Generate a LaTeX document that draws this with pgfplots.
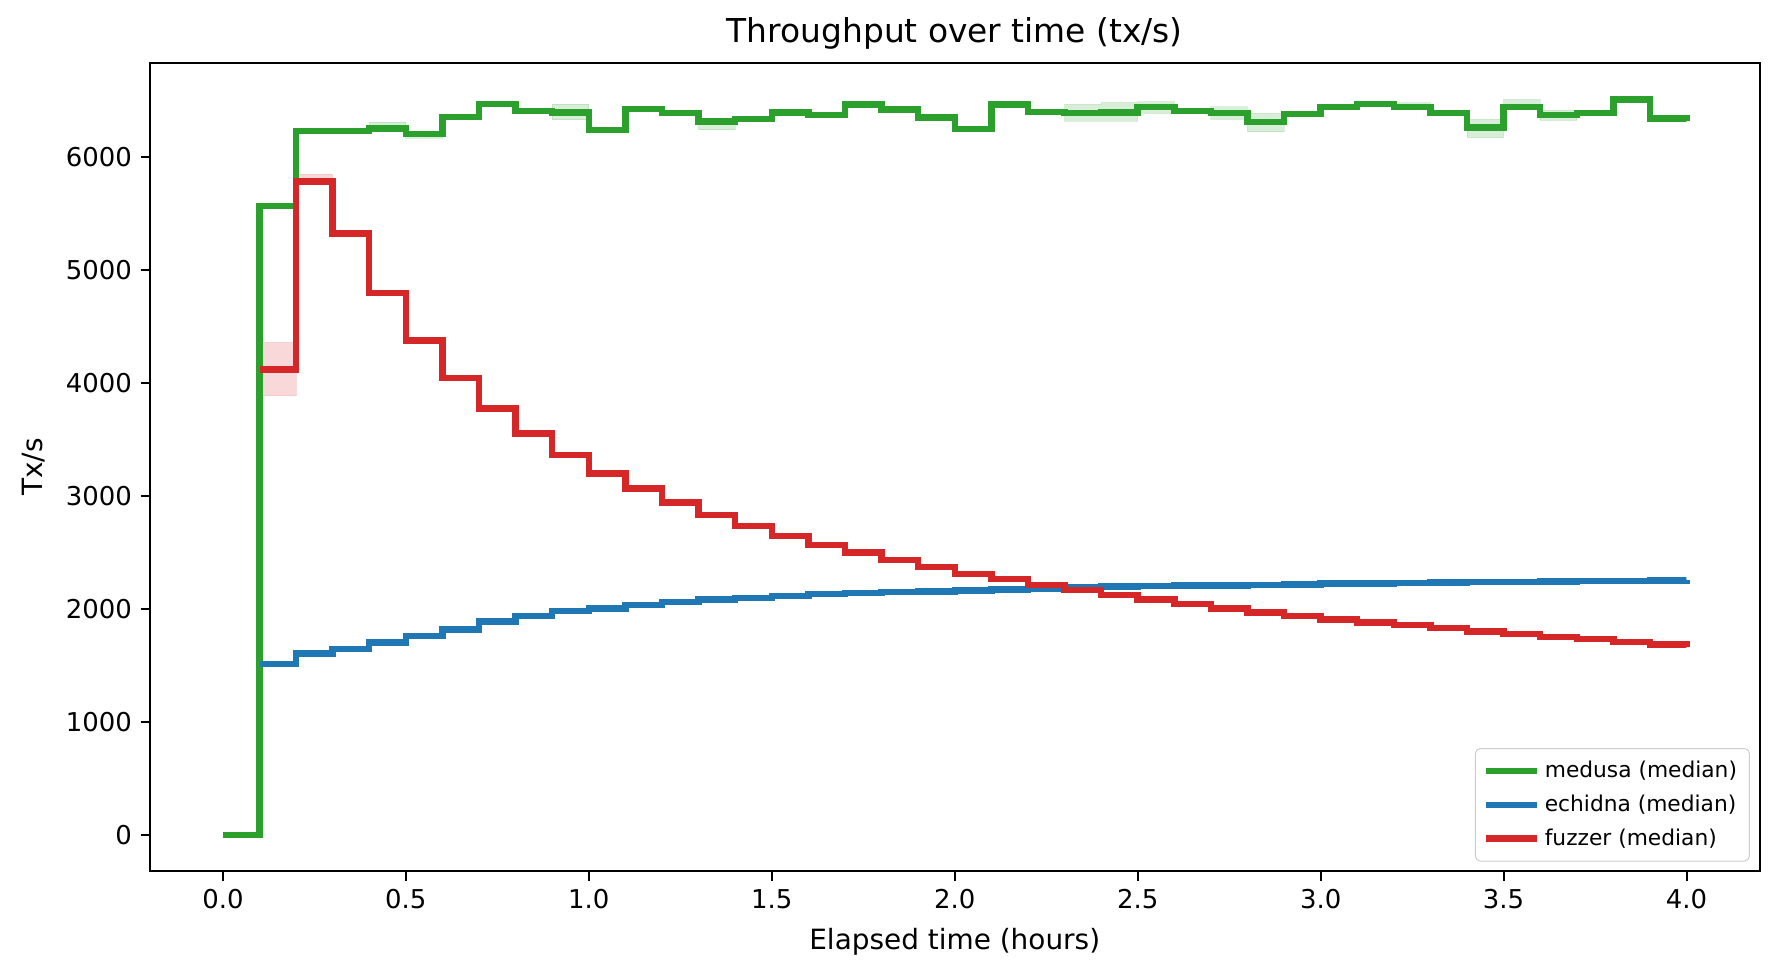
\documentclass[border=0pt]{standalone}
\usepackage{fontspec}
\setmainfont{DejaVu Sans}
\usepackage{pgfplots}
\usepackage{pgfplotstable}
\pgfplotsset{compat=1.18}
\usepgfplotslibrary{fillbetween}
\definecolor{mgreen}{HTML}{2CA02C}
\definecolor{mblue}{HTML}{1F77B4}
\definecolor{mred}{HTML}{D62728}

\pgfplotstableread{
x med lo hi
0.0 0 0 0
0.1 5565 5550 5580
0.2 6228 6215 6240
0.3 6228 6215 6250
0.4 6251 6235 6305
0.5 6201 6163 6215
0.6 6349 6335 6365
0.7 6464 6450 6478
0.8 6405 6390 6420
0.9 6390 6325 6464
1.0 6237 6222 6250
1.1 6420 6405 6435
1.2 6385 6370 6400
1.3 6311 6237 6330
1.4 6331 6318 6345
1.5 6392 6378 6405
1.6 6368 6350 6385
1.7 6462 6448 6475
1.8 6418 6405 6432
1.9 6347 6333 6360
2.0 6244 6230 6258
2.1 6462 6448 6475
2.2 6394 6380 6420
2.3 6388 6315 6462
2.4 6391 6315 6477
2.5 6441 6382 6485
2.6 6403 6390 6420
2.7 6388 6329 6441
2.8 6309 6220 6382
2.9 6375 6360 6390
3.0 6440 6425 6455
3.1 6465 6440 6490
3.2 6441 6420 6475
3.3 6388 6375 6400
3.4 6259 6169 6330
3.5 6441 6430 6505
3.6 6368 6320 6410
3.7 6388 6372 6400
3.8 6506 6492 6520
3.9 6339 6325 6352
4.0 6315 6300 6330
}\medusa

\pgfplotstableread{
x med lo hi
0.1 1510 1498 1524
0.2 1605 1593 1619
0.3 1646 1634 1660
0.4 1702 1690 1716
0.5 1758 1746 1772
0.6 1817 1805 1831
0.7 1885 1873 1899
0.8 1935 1923 1949
0.9 1979 1967 1993
1.0 2003 1991 2017
1.1 2032 2020 2046
1.2 2059 2047 2073
1.3 2083 2071 2097
1.4 2097 2085 2111
1.5 2114 2102 2128
1.6 2131 2119 2145
1.7 2139 2127 2153
1.8 2146 2134 2160
1.9 2152 2140 2166
2.0 2161 2149 2175
2.1 2170 2158 2184
2.2 2179 2167 2193
2.3 2190 2178 2204
2.4 2196 2184 2210
2.5 2199 2187 2213
2.6 2205 2193 2219
2.7 2207 2195 2221
2.8 2211 2199 2225
2.9 2214 2202 2228
3.0 2222 2210 2236
3.1 2224 2212 2238
3.2 2226 2214 2240
3.3 2232 2220 2246
3.4 2234 2222 2248
3.5 2236 2224 2250
3.6 2240 2228 2254
3.7 2243 2231 2257
3.8 2245 2233 2259
3.9 2248 2236 2262
4.0 2252 2240 2266
}\echidna

\pgfplotstableread{
x med lo hi
0.1 4118 3885 4354
0.2 5781 5768 5843
0.3 5320 5308 5340
0.4 4793 4780 4815
0.5 4375 4362 4395
0.6 4042 4030 4062
0.7 3773 3762 3795
0.8 3552 3540 3572
0.9 3360 3348 3385
1.0 3198 3186 3220
1.1 3065 3053 3085
1.2 2941 2930 2962
1.3 2829 2818 2850
1.4 2732 2720 2752
1.5 2644 2632 2664
1.6 2565 2554 2585
1.7 2497 2486 2517
1.8 2432 2421 2452
1.9 2367 2356 2385
2.0 2308 2297 2328
2.1 2261 2250 2280
2.2 2208 2197 2226
2.3 2164 2153 2182
2.4 2120 2109 2138
2.5 2081 2070 2099
2.6 2040 2030 2058
2.7 2001 1991 2019
2.8 1966 1956 1984
2.9 1938 1928 1955
3.0 1905 1895 1922
3.1 1878 1868 1895
3.2 1855 1845 1872
3.3 1828 1818 1845
3.4 1798 1788 1815
3.5 1775 1765 1792
3.6 1749 1739 1766
3.7 1731 1721 1748
3.8 1707 1697 1724
3.9 1682 1672 1699
4.0 1665 1655 1682
}\fuzzer

\begin{document}
\begin{tikzpicture}
\begin{axis}[
  scale only axis,
  width=651.6pt, height=327.4pt,
  xmin=-0.2, xmax=4.2,
  ymin=-325, ymax=6833,
  xtick={0,0.5,1,1.5,2,2.5,3,3.5,4},
  ytick={0,1000,2000,3000,4000,5000,6000},
  xtick pos=left, ytick pos=left,
  tick align=outside,
  major tick length=3.7pt,
  every tick/.style={black, line width=0.8pt},
  axis line style={line width=0.8pt},
  scaled y ticks=false,
  /pgf/number format/assume math mode=true,
  x tick label style={/pgf/number format/.cd, fixed, fixed zerofill, precision=1},
  y tick label style={/pgf/number format/.cd, 1000 sep={}},
  tick label style={font=\fontsize{10.5}{12}\selectfont},
  xlabel={Elapsed time (hours)},
  ylabel={Tx/s},
  label style={font=\fontsize{11.3}{13}\selectfont},
  xlabel style={at={(axis description cs:0.5,-0.087)}, anchor=center},
  ylabel style={at={(axis description cs:-0.072,0.5)}, anchor=center},
  title={Throughput over time (tx/s)},
  every axis title shift=0pt,
  title style={at={(axis description cs:0.5,1)}, anchor=base, yshift=8pt, font=\fontsize{13.3}{15}\selectfont},
  legend image code/.code={\draw[#1] (0cm,0cm) -- (0.72cm,0cm);},
  legend cell align=left,
  legend style={at={(axis description cs:1,0)}, anchor=south east, xshift=-4pt, yshift=4pt,
    draw=black!20, rounded corners=2pt, font=\fontsize{8.8}{10.6}\selectfont,
    row sep=1.5pt, inner xsep=3pt, inner ysep=3pt},
]
% medusa
\addplot[draw=none, const plot, name path=ghi, forget plot] table[x=x,y=hi]{\medusa};
\addplot[draw=none, const plot, name path=glo, forget plot] table[x=x,y=lo]{\medusa};
\addplot[fill=mgreen, fill opacity=0.18, draw=mgreen, draw opacity=0.15, forget plot] fill between[of=ghi and glo];
\addplot[const plot, mgreen, line width=2.6pt, forget plot] table[x=x,y=med]{\medusa};
% echidna
\addplot[draw=none, const plot, name path=bhi, forget plot] table[x=x,y=hi]{\echidna};
\addplot[draw=none, const plot, name path=blo, forget plot] table[x=x,y=lo]{\echidna};
\addplot[fill=mblue, fill opacity=0.18, draw=mblue, draw opacity=0.15, forget plot] fill between[of=bhi and blo];
\addplot[const plot, mblue, line width=2.6pt, forget plot] table[x=x,y=med]{\echidna};
% fuzzer
\addplot[draw=none, const plot, name path=rhi, forget plot] table[x=x,y=hi]{\fuzzer};
\addplot[draw=none, const plot, name path=rlo, forget plot] table[x=x,y=lo]{\fuzzer};
\addplot[fill=mred, fill opacity=0.18, draw=mred, draw opacity=0.15, forget plot] fill between[of=rhi and rlo];
\addplot[const plot, mred, line width=2.6pt, forget plot] table[x=x,y=med]{\fuzzer};

\addlegendimage{mgreen, line width=2.6pt}
\addlegendentry{medusa (median)}
\addlegendimage{mblue, line width=2.6pt}
\addlegendentry{echidna (median)}
\addlegendimage{mred, line width=2.6pt}
\addlegendentry{fuzzer (median)}
\end{axis}
\path ([shift={(-60.6pt,-43.1pt)}]current axis.south west) rectangle ([shift={(7.8pt,25.3pt)}]current axis.north east);
\end{tikzpicture}
\end{document}
